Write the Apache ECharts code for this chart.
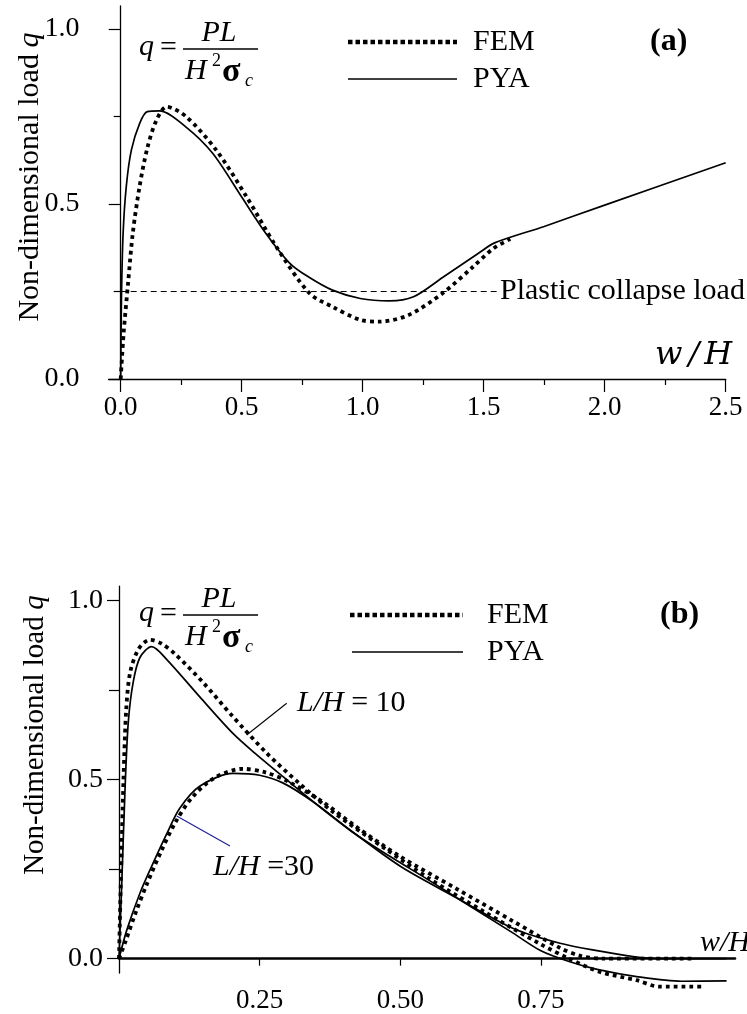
<!DOCTYPE html>
<html>
<head>
<meta charset="utf-8">
<script src="https://cdn.jsdelivr.net/npm/echarts@6/dist/echarts.min.js"></script>
<style>
html,body{margin:0;padding:0;background:#fff;}
#chart{width:747px;height:1014px;}
</style>
</head>
<body>
<div id="chart"></div>
<script>
// ---------- DATA: panel (a) ----------
const pyaAx = [0, 0.003, 0.01, 0.023, 0.044, 0.078, 0.11, 0.16, 0.27, 0.38, 0.50, 0.60, 0.70, 0.78, 0.875, 0.99, 1.11, 1.21, 1.33, 1.48, 1.545, 1.75, 2.0, 2.5];
const pyaAy = [0, 0.226, 0.417, 0.55, 0.654, 0.73, 0.764, 0.766, 0.72, 0.645, 0.52, 0.416, 0.33, 0.29, 0.254, 0.23, 0.223, 0.235, 0.29, 0.36, 0.389, 0.436, 0.497, 0.618];
const femAx = [0, 0.012, 0.03, 0.05, 0.078, 0.11, 0.148, 0.19, 0.27, 0.395, 0.52, 0.643, 0.78, 0.876, 0.99, 1.07, 1.19, 1.33, 1.455, 1.54, 1.61];
const femAy = [0, 0.13, 0.27, 0.417, 0.55, 0.66, 0.74, 0.778, 0.75, 0.654, 0.521, 0.378, 0.245, 0.206, 0.169, 0.164, 0.183, 0.245, 0.32, 0.373, 0.40];
const collapseX = [0, 1.56];
const collapseLoad = 0.25;

// ---------- DATA: panel (b) ----------
const pya10x = [0, 0.005, 0.011, 0.0165, 0.025, 0.037, 0.058, 0.085, 0.144, 0.203, 0.242, 0.3, 0.36, 0.42, 0.482, 0.55, 0.6, 0.7, 0.75, 0.8, 0.85, 0.92, 1.0, 1.08];
const pya10y = [0, 0.215, 0.484, 0.66, 0.77, 0.84, 0.871, 0.835, 0.73, 0.628, 0.573, 0.497, 0.42, 0.348, 0.285, 0.22, 0.17, 0.072, 0.022, -0.008, -0.03, -0.05, -0.063, -0.062];
const fem10x = [0, 0.003, 0.008, 0.013, 0.02, 0.035, 0.055, 0.075, 0.1, 0.15, 0.2, 0.263, 0.32, 0.38, 0.476, 0.55, 0.65, 0.75, 0.8, 0.855, 0.92, 0.96, 1.04];
const fem10y = [0, 0.2, 0.5, 0.7, 0.8, 0.865, 0.89, 0.88, 0.85, 0.77, 0.68, 0.573, 0.49, 0.41, 0.304, 0.225, 0.13, 0.04, 0.0, -0.037, -0.06, -0.078, -0.078];
const pya30x = [0, 0.0137, 0.037, 0.061, 0.085, 0.108, 0.144, 0.203, 0.25, 0.292, 0.345, 0.41, 0.5, 0.6, 0.7, 0.784, 0.855, 0.914, 0.96, 1.08];
const pya30y = [0, 0.079, 0.182, 0.268, 0.349, 0.42, 0.482, 0.517, 0.512, 0.49, 0.438, 0.36, 0.258, 0.17, 0.085, 0.043, 0.021, 0.006, 0.0, 0.0];
const fem30x = [0, 0.012, 0.03, 0.05, 0.075, 0.1, 0.13, 0.17, 0.22, 0.26, 0.3, 0.36, 0.42, 0.5, 0.6, 0.7, 0.784, 0.82, 0.86, 1.02];
const fem30y = [0, 0.05, 0.13, 0.21, 0.3, 0.38, 0.45, 0.505, 0.53, 0.52, 0.495, 0.44, 0.37, 0.285, 0.195, 0.105, 0.03, 0.008, 0.0, 0.0];

// ---------- TICKS ----------
const xTicksA = [0, 0.5, 1.0, 1.5, 2.0, 2.5];
const xMinorA = [0.25, 0.75, 1.25, 1.75, 2.25];
const yTicks = [0, 0.5, 1.0];
const yMinor = [0.25, 0.75];
const xTicksB = [0.25, 0.5, 0.75];

const zip = (xs, ys) => xs.map((x, i) => [x, ys[i]]);
const SERIF = "'Liberation Serif', 'Times New Roman', serif";
const BLK = '#000';

function mainAxisX(grid, min, max, ticks, labelDigits, lineW, tickLen, margin) {
  return {
    type: 'value', gridIndex: grid, min: min, max: max, position: 'bottom',
    axisLine: { show: true, onZero: true, lineStyle: { color: BLK, width: lineW } },
    axisTick: { show: true, customValues: ticks, length: tickLen, lineStyle: { color: BLK, width: 1.2 } },
    axisLabel: { show: true, customValues: ticks, margin: margin, color: BLK, fontFamily: SERIF, fontSize: 27,
      formatter: v => Number(v).toFixed(labelDigits) },
    splitLine: { show: false }
  };
}
function minorAxisX(grid, min, max, ticks, tickLen) {
  return {
    type: 'value', gridIndex: grid, min: min, max: max, position: 'bottom',
    axisLine: { show: false, onZero: true },
    axisTick: { show: true, customValues: ticks, length: tickLen, lineStyle: { color: BLK, width: 1.2 } },
    axisLabel: { show: false }, splitLine: { show: false }
  };
}
function mainAxisY(grid, min, max, tickLen, margin, pad) {
  return {
    type: 'value', gridIndex: grid, min: min, max: max, position: 'left',
    axisLine: { show: true, onZero: true, lineStyle: { color: BLK, width: 1.3 } },
    axisTick: { show: true, customValues: yTicks, length: tickLen, lineStyle: { color: BLK, width: 1.2 } },
    axisLabel: { show: true, customValues: yTicks, margin: margin, color: BLK, fontFamily: SERIF, fontSize: 28,
      padding: [pad, 0, 0, 0], formatter: v => Number(v).toFixed(1) },
    splitLine: { show: false }
  };
}
function minorAxisY(grid, min, max, tickLen) {
  return {
    type: 'value', gridIndex: grid, min: min, max: max, position: 'left',
    axisLine: { show: false, onZero: true },
    axisTick: { show: true, customValues: yMinor, length: tickLen, lineStyle: { color: BLK, width: 1.2 } },
    axisLabel: { show: false }, splitLine: { show: false }
  };
}

const solid = { color: BLK, width: 1.7 };
const dotted = { color: BLK, width: 3.8, type: [3.8, 4], cap: 'butt' };
function line(xi, yi, data, style) {
  return { type: 'line', xAxisIndex: xi, yAxisIndex: yi, data: data, showSymbol: false, symbol: 'none',
    smooth: 0.3, clip: false, lineStyle: style, silent: true, animation: false };
}

function t(x, y, text, font, align, valign, extra) {
  return Object.assign({ type: 'text', x: x, y: y, silent: true,
    style: { text: text, font: font, fill: BLK, textAlign: align || 'left', textVerticalAlign: valign || 'middle' } }, extra || {});
}
function seg(x1, y1, x2, y2, w, dash, color) {
  return { type: 'line', silent: true, shape: { x1: x1, y1: y1, x2: x2, y2: y2 },
    style: { stroke: color || BLK, lineWidth: w, lineDash: dash || null } };
}
function formula(dy) {
  return [
    t(139, 47 + dy, 'q', 'italic 30px ' + SERIF),
    t(160, 48 + dy, '=', '30px ' + SERIF),
    seg(183, 49 + dy, 258, 49 + dy, 1.3),
    t(219, 33 + dy, 'PL', 'italic 30px ' + SERIF, 'center'),
    t(185, 71 + dy, 'H', 'italic 30px ' + SERIF),
    t(212, 61 + dy, '2', '18px ' + SERIF),
    t(222, 72 + dy, 'σ', 'bold 34px ' + SERIF),
    t(245, 81 + dy, 'c', 'italic 18px ' + SERIF)
  ];
}
function whLabel(x, y, font) {
  return t(x, y, '', '', 'left', 'middle', {
    style: { text: '{w|w}{s|/}{h|H}', textAlign: 'left', textVerticalAlign: 'middle',
      rich: { w: { font: font, fill: BLK }, s: { font: font, fill: BLK, padding: [0, 5, 0, 6] }, h: { font: font, fill: BLK } } }
  });
}

const graphics = [].concat(
  // panel (a)
  [
    t(30, 177, '', '', 'center', 'middle', {
      rotation: Math.PI / 2,
      style: { text: '{n|Non-dimensional load}  {q|q}', textAlign: 'center', textVerticalAlign: 'middle',
        rich: { n: { font: '30px ' + SERIF, fill: BLK }, q: { font: 'italic 30px ' + SERIF, fill: BLK } } }
    }),
    seg(348, 42, 457, 42, 4.5, [4.5, 3]),
    seg(348, 79, 457, 79, 1.7),
    t(473, 42, 'FEM', '30px ' + SERIF),
    t(473, 79, 'PYA', '30px ' + SERIF),
    t(650, 42, '(a)', 'bold 32px ' + SERIF),
    t(500, 291, 'Plastic collapse load', '30px ' + SERIF),
    whLabel(655, 356, 'italic 32px ' + "'DejaVu Serif', serif")
  ],
  formula(0),
  // panel (b)
  [
    t(35, 735, '', '', 'center', 'middle', {
      rotation: Math.PI / 2,
      style: { text: '{n|Non-dimensional load}  {q|q}', textAlign: 'center', textVerticalAlign: 'middle',
        rich: { n: { font: '29px ' + SERIF, fill: BLK }, q: { font: 'italic 29px ' + SERIF, fill: BLK } } }
    }),
    seg(350, 615, 463, 615, 4.5, [4.5, 3]),
    seg(352, 652, 463, 652, 1.7),
    t(487, 615, 'FEM', '30px ' + SERIF),
    t(487, 652, 'PYA', '30px ' + SERIF),
    t(660, 615, '(b)', 'bold 32px ' + SERIF),
    t(700, 943, 'w/H', 'italic 30px ' + SERIF),
    t(297, 703, '', '', 'left', 'middle', {
      style: { text: '{i|L/H} = 10', textAlign: 'left', textVerticalAlign: 'middle', font: '30px ' + SERIF, fill: BLK,
        rich: { i: { font: 'italic 30px ' + SERIF, fill: BLK } } }
    }),
    t(213, 867, '', '', 'left', 'middle', {
      style: { text: '{i|L/H} =30', textAlign: 'left', textVerticalAlign: 'middle', font: '30px ' + SERIF, fill: BLK,
        rich: { i: { font: 'italic 30px ' + SERIF, fill: BLK } } }
    }),
    seg(286.7, 703.3, 246.7, 735, 1.1),
    seg(176.7, 816, 230, 846, 1.1, null, '#1c1c96')
  ],
  formula(566)
);

const option = {
  backgroundColor: '#fff',
  animation: false,
  grid: [
    { left: 108.6, top: 6, width: 617.1, height: 373, containLabel: false },
    { left: 119, top: 586.1, width: 616, height: 401.8, containLabel: false }
  ],
  xAxis: [
    mainAxisX(0, -0.05, 2.5, xTicksA, 1, 1.3, 13, 15),
    minorAxisX(0, -0.05, 2.5, xMinorA, 6),
    mainAxisX(1, 0, 1.095, xTicksB, 2, 2.6, 7, 14)
  ],
  yAxis: [
    mainAxisY(0, 0, 1.066, 12, 29, 10),
    minorAxisY(0, 0, 1.066, 7),
    mainAxisY(1, -0.04, 1.04, 12, 16, 12),
    minorAxisY(1, -0.04, 1.04, 10)
  ],
  series: [
    { type: 'line', xAxisIndex: 0, yAxisIndex: 0, data: collapseX.map(x => [x, collapseLoad]), showSymbol: false, symbol: 'none',
      lineStyle: { color: BLK, width: 1, type: [6, 4] }, silent: true },
    line(0, 0, zip(pyaAx, pyaAy), solid),
    line(0, 0, zip(femAx, femAy), dotted),
    line(2, 2, zip(pya10x, pya10y), solid),
    line(2, 2, zip(fem10x, fem10y), dotted),
    line(2, 2, zip(pya30x, pya30y), solid),
    line(2, 2, zip(fem30x, fem30y), dotted)
  ],
  graphic: { elements: graphics }
};

const chart = echarts.init(document.getElementById('chart'), null, { renderer: 'canvas' });
chart.setOption(option);
</script>
</body>
</html>
